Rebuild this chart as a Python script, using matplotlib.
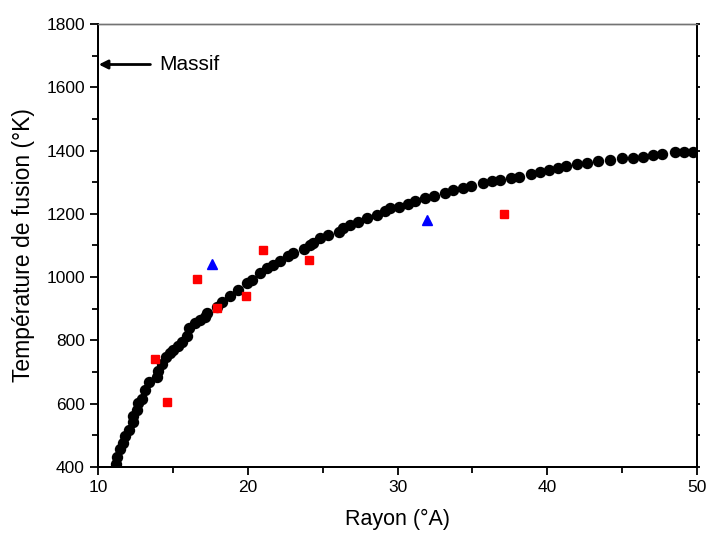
import matplotlib.pyplot as plt
from matplotlib.ticker import MultipleLocator

plt.rcParams['font.family'] = ['Liberation Sans', 'DejaVu Sans']

# black dots (model curve)
rayon = [11.20, 11.24, 11.47, 11.69, 11.80, 12.09, 12.32, 12.36, 12.58, 12.69,
         12.92, 13.14, 13.43, 13.92, 14.03, 14.27, 14.54, 14.81, 15.03, 15.36,
         15.59, 15.94, 16.08, 16.48, 16.81, 17.15, 17.26, 17.93, 18.26, 18.81,
         19.37, 19.93, 20.26, 20.82, 21.27, 21.71, 22.15, 22.71, 23.04, 23.76,
         24.16, 24.36, 24.82, 25.38, 26.11, 26.38, 26.83, 27.38, 27.94, 28.61,
         29.17, 29.50, 30.12, 30.72, 31.17, 31.84, 32.44, 33.17, 33.73, 34.34,
         34.94, 35.73, 36.28, 36.84, 37.55, 38.08, 38.89, 39.52, 40.14, 40.72,
         41.25, 41.99, 42.67, 43.39, 44.16, 44.97, 45.75, 46.41, 47.08, 47.66,
         48.53, 49.13, 49.73]
temp = [410, 432, 457, 476, 498, 517, 542, 561, 580, 602,
        615, 643, 669, 685, 703, 726, 748, 760, 770, 782,
        795, 814, 839, 855, 865, 875, 886, 905, 922, 940,
        959, 981, 991, 1012, 1028, 1038, 1052, 1067, 1075, 1089,
        1102, 1107, 1123, 1133, 1144, 1154, 1165, 1175, 1186, 1196,
        1210, 1219, 1223, 1231, 1241, 1249, 1256, 1265, 1275, 1282,
        1287, 1297, 1304, 1307, 1313, 1317, 1327, 1332, 1339, 1345,
        1351, 1356, 1361, 1366, 1369, 1376, 1378, 1381, 1386, 1389,
        1395, 1395, 1396]

# red squares
rayon_sq = [13.8, 14.6, 16.6, 17.95, 19.9, 21.0, 24.1, 37.1]
temp_sq = [741, 605, 994, 902, 940, 1086, 1054, 1200]

# blue triangles
rayon_tri = [17.6, 32.0]
temp_tri = [1040, 1182]

fig = plt.figure(figsize=(7.08, 5.37), dpi=100)
ax = fig.add_axes([0.1384, 0.1304, 0.8461, 0.8249])

ax.plot(rayon, temp, 'o', color='black', markersize=7.2, linestyle='none')
ax.plot(rayon_sq, temp_sq, 's', color='red', markersize=6.3, linestyle='none')
ax.plot(rayon_tri, temp_tri, '^', color='blue', markersize=7, linestyle='none')

ax.annotate('', xy=(10.05, 1672), xytext=(13.5, 1672),
            arrowprops=dict(arrowstyle='-|>', color='black', lw=2,
                            mutation_scale=13, shrinkA=0, shrinkB=0))
ax.text(14.1, 1672, 'Massif', fontsize=15, va='center', ha='left')

ax.set_xlim(10, 50)
ax.set_ylim(400, 1800)
ax.xaxis.set_major_locator(MultipleLocator(10))
ax.xaxis.set_minor_locator(MultipleLocator(5))
ax.yaxis.set_major_locator(MultipleLocator(200))
ax.yaxis.set_minor_locator(MultipleLocator(100))

ax.tick_params(which='major', direction='out', length=6, width=1.3,
               labelsize=12.5, top=False, right=False)
ax.tick_params(which='minor', direction='out', length=4, width=1.3,
               top=False, right=False)

# tiny ticks on the right spine
ax2 = ax.twinx()
ax2.set_ylim(400, 1800)
ax2.yaxis.set_major_locator(MultipleLocator(100))
ax2.tick_params(axis='y', direction='out', length=2, width=1.3, labelright=False)

for a in (ax, ax2):
    for side in ['left', 'bottom', 'right']:
        a.spines[side].set_linewidth(1.4)
    a.spines['top'].set_linewidth(1.0)
    a.spines['top'].set_color('0.45')

ax.set_xlabel('Rayon (°A)', fontsize=15.5, labelpad=10)
ax.set_ylabel('Température de fusion (°K)', fontsize=16.5, labelpad=8)

fig.savefig('out.png', dpi=100)
